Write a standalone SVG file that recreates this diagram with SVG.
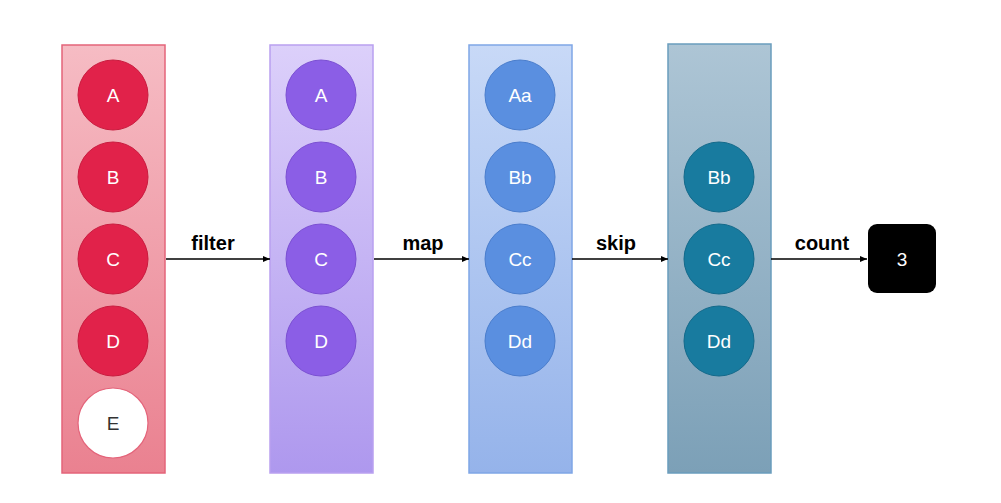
<svg xmlns="http://www.w3.org/2000/svg" width="1001" height="503" viewBox="0 0 1001 503">
<defs>
<linearGradient id="g1" x1="0" y1="0" x2="0" y2="1"><stop offset="0" stop-color="#f6bcc4"/><stop offset="1" stop-color="#ea8190"/></linearGradient>
<linearGradient id="g2" x1="0" y1="0" x2="0" y2="1"><stop offset="0" stop-color="#dcd0fa"/><stop offset="1" stop-color="#ae98ee"/></linearGradient>
<linearGradient id="g3" x1="0" y1="0" x2="0" y2="1"><stop offset="0" stop-color="#c8d9f7"/><stop offset="1" stop-color="#95b3ea"/></linearGradient>
<linearGradient id="g4" x1="0" y1="0" x2="0" y2="1"><stop offset="0" stop-color="#adc5d5"/><stop offset="1" stop-color="#7ca0b7"/></linearGradient>
<marker id="ah" markerWidth="8" markerHeight="8" refX="7" refY="4" orient="auto" markerUnits="userSpaceOnUse"><path d="M0,1 L7,4 L0,7 Z" fill="#000"/></marker>
</defs>
<style>
text{font-family:"Liberation Sans",Arial,sans-serif;text-anchor:middle;dominant-baseline:central}
.t{fill:#fff;font-size:19px}
.lbl{fill:#000;font-size:20px;font-weight:bold}
.c1{fill:#e1224a;stroke:#c91b3e;stroke-width:1}
.c2{fill:#8b5ee6;stroke:#7a4fd2;stroke-width:1}
.c3{fill:#5a8fe0;stroke:#4a7dcc;stroke-width:1}
.c4{fill:#187b9f;stroke:#13698a;stroke-width:1}
.edge{stroke:#000;stroke-width:1.6;fill:none;marker-end:url(#ah)}
</style>
<rect width="1001" height="503" fill="#fff"/>
<g id="col-source">
<rect x="62" y="45" width="103" height="428" fill="url(#g1)" stroke="#e4647a" stroke-width="1.5"/>
<g id="s-A"><circle class="c1" cx="113" cy="95" r="35"/><text class="t" x="113" y="95">A</text></g>
<g id="s-B"><circle class="c1" cx="113" cy="177" r="35"/><text class="t" x="113" y="177">B</text></g>
<g id="s-C"><circle class="c1" cx="113" cy="259" r="35"/><text class="t" x="113" y="259">C</text></g>
<g id="s-D"><circle class="c1" cx="113" cy="341" r="35"/><text class="t" x="113" y="341">D</text></g>
<g id="s-E"><circle cx="113" cy="423" r="35" fill="#fff" stroke="#e4647a" stroke-width="1.2"/><text x="113" y="423" font-size="19" fill="#333">E</text></g>
</g>
<g id="col-filter">
<rect x="270" y="45" width="103" height="428" fill="url(#g2)" stroke="#b9a0f0" stroke-width="1.5"/>
<g id="f-A"><circle class="c2" cx="321" cy="95" r="35"/><text class="t" x="321" y="95">A</text></g>
<g id="f-B"><circle class="c2" cx="321" cy="177" r="35"/><text class="t" x="321" y="177">B</text></g>
<g id="f-C"><circle class="c2" cx="321" cy="259" r="35"/><text class="t" x="321" y="259">C</text></g>
<g id="f-D"><circle class="c2" cx="321" cy="341" r="35"/><text class="t" x="321" y="341">D</text></g>
</g>
<g id="col-map">
<rect x="469" y="45" width="103" height="428" fill="url(#g3)" stroke="#7fa6e6" stroke-width="1.5"/>
<g id="m-Aa"><circle class="c3" cx="520" cy="95" r="35"/><text class="t" x="520" y="95">Aa</text></g>
<g id="m-Bb"><circle class="c3" cx="520" cy="177" r="35"/><text class="t" x="520" y="177">Bb</text></g>
<g id="m-Cc"><circle class="c3" cx="520" cy="259" r="35"/><text class="t" x="520" y="259">Cc</text></g>
<g id="m-Dd"><circle class="c3" cx="520" cy="341" r="35"/><text class="t" x="520" y="341">Dd</text></g>
</g>
<g id="col-skip">
<rect x="668" y="44" width="103" height="429" fill="url(#g4)" stroke="#6a9dbd" stroke-width="1.5"/>
<g id="k-Bb"><circle class="c4" cx="719" cy="177" r="35"/><text class="t" x="719" y="177">Bb</text></g>
<g id="k-Cc"><circle class="c4" cx="719" cy="259" r="35"/><text class="t" x="719" y="259">Cc</text></g>
<g id="k-Dd"><circle class="c4" cx="719" cy="341" r="35"/><text class="t" x="719" y="341">Dd</text></g>
</g>
<g id="result">
<rect x="868" y="224" width="68" height="69" rx="9" fill="#000"/>
<text class="t" x="902" y="259">3</text>
</g>
<g id="connectors">
<line class="edge" x1="166" y1="259" x2="270" y2="259"/>
<text class="lbl" x="213" y="243">filter</text>
<line class="edge" x1="374" y1="259" x2="469" y2="259"/>
<text class="lbl" x="423" y="243">map</text>
<line class="edge" x1="572" y1="259" x2="668" y2="259"/>
<text class="lbl" x="616" y="243">skip</text>
<line class="edge" x1="771" y1="259" x2="867" y2="259"/>
<text class="lbl" x="822" y="243">count</text>
</g>
</svg>
